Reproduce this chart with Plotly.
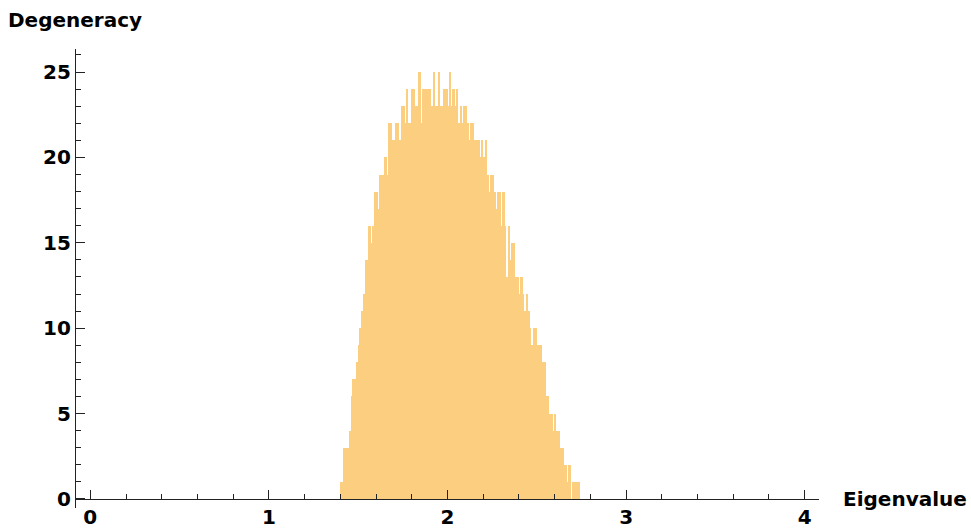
import plotly.graph_objects as go

# Histogram bins: left edge of first bin and bin width
bin_start = 1.40
bin_width = 0.01
counts = [1, 1, 3, 3, 3, 4, 6, 7, 7, 8, 9, 10, 11, 12, 14, 14, 16, 15, 16, 18,
          18, 17, 19, 19, 19, 20, 19, 22, 22, 21, 21, 22, 22, 21, 23, 23,
          22, 24, 22, 22, 24, 24, 23, 23, 25, 22, 24, 24, 24, 24, 24, 23, 25, 23,
          23, 25, 23, 23, 24, 24, 23, 25, 23, 24, 23, 24, 22, 23, 22, 23, 23,
          22, 21, 22, 22, 21, 21, 21, 20, 21, 20, 21, 19, 18, 19, 19, 18, 17, 18,
          18, 16, 18, 16, 13, 16, 14, 15, 15, 13, 13, 12, 13, 12, 11, 12, 11, 10,
          9, 10, 10, 9, 9, 9, 8, 8, 6, 6, 5, 5, 4, 5, 4, 4, 3, 3, 2, 2, 1, 2, 0,
          1, 1, 1, 1]
centers = [round(bin_start + bin_width * (i + 0.5), 4) for i in range(len(counts))]

x_major = [0, 1, 2, 3, 4]
y_major = [0, 5, 10, 15, 20, 25]

x_range = [-0.08, 4.08]
y_range = [-0.53, 26.35]

font_family = "DejaVu Sans, Verdana, sans-serif"

fig = go.Figure()
fig.add_trace(go.Bar(
    x=centers, y=counts, width=bin_width,
    marker=dict(color="rgb(252,206,127)", line=dict(width=0)),
    hoverinfo="x+y",
))

fig.update_layout(
    width=971, height=530,
    margin=dict(l=76, r=152, t=49, b=22),
    plot_bgcolor="white", paper_bgcolor="white",
    bargap=0, showlegend=False,
    font=dict(family=font_family, size=20, color="black"),
    xaxis=dict(
        range=x_range, tickvals=x_major, ticktext=[str(v) for v in x_major],
        ticks="inside", ticklen=9, tickwidth=1.2, tickcolor="#222",
        showline=True, linecolor="#222", linewidth=1.2,
        showgrid=False, zeroline=False, automargin=False,
        anchor="free", position=(0 - y_range[0]) / (y_range[1] - y_range[0]),
        tickfont=dict(family=font_family, size=20, color="black", weight="bold"),
        minor=dict(dtick=0.2, tick0=0, ticks="inside", ticklen=5,
                   tickwidth=1, tickcolor="#222", showgrid=False),
    ),
    yaxis=dict(
        range=y_range, tickvals=y_major, ticktext=[str(v) for v in y_major],
        ticks="inside", ticklen=9, tickwidth=1.2, tickcolor="#222",
        showline=True, linecolor="#222", linewidth=1.2,
        showgrid=False, zeroline=False, automargin=False,
        tickfont=dict(family=font_family, size=20, color="black", weight="bold"),
        minor=dict(dtick=1, tick0=0, ticks="inside", ticklen=5,
                   tickwidth=1, tickcolor="#222", showgrid=False),
    ),
    annotations=[
        dict(text="<b>Degeneracy</b>", xref="paper", yref="paper",
             x=0, y=1.0, xanchor="left", yanchor="middle", xshift=-70, yshift=29,
             showarrow=False, font=dict(family=font_family, size=20, color="black")),
        dict(text="<b>Eigenvalue</b>", xref="paper", yref="y",
             x=1.0, y=0, xanchor="left", yanchor="middle", xshift=22,
             showarrow=False, font=dict(family=font_family, size=20, color="black")),
    ],
)

fig.write_html("out.html", config={"displayModeBar": False},
               post_script="document.body.style.margin='0';")
